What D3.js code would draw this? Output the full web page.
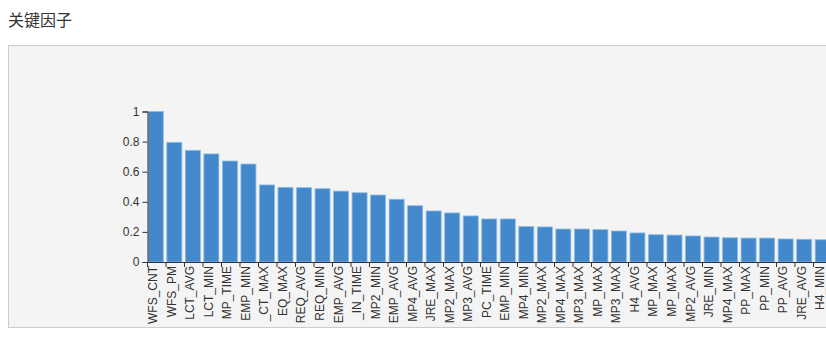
<!DOCTYPE html>
<html>
<head>
<meta charset="utf-8">
<script src="https://cdn.jsdelivr.net/npm/d3@7"></script>
<style>
  html, body { margin: 0; padding: 0; background: #fff; }
  body { width: 826px; height: 341px; overflow: hidden; position: relative; }
  #title { position: absolute; left: 8px; top: 8px; font: 16px "Noto Sans CJK SC", sans-serif; color: #333; line-height: 22px; }
  #panel { position: absolute; left: 8px; top: 45px; width: 817px; height: 281px; border: 1px solid #ccc; border-right: none; background: #f4f4f4; overflow: hidden; }
</style>
</head>
<body>
<div id="title">关键因子</div>
<div id="panel"></div>
<script>
const categories = [
  "WFS_CNT", "WFS_PM", "LCT_AVG", "LCT_MIN", "MP_TIME",
  "EMP_MIN", "_CT_MAX", "EQ_MAX", "REQ_AVG", "REQ_MIN",
  "EMP_AVG", "_IN_TIME", "MP2_MIN", "EMP_AVG ", "MP4_AVG",
  "JRE_MAX", "MP2_MAX", "MP3_AVG", "PC_TIME", "EMP_MIN ",
  "MP4_MIN", "MP2_MAX ", "MP4_MAX", "MP3_MAX", "MP_MAX",
  "MP3_MAX ", "H4_AVG", "MP_MAX ", "MP_MAX  ", "MP2_AVG",
  "JRE_MIN", "MP4_MAX ", "PP_MAX", "PP_MIN", "PP_AVG",
  "JRE_AVG", "H4_MIN"
];
const values = [
  1.0, 0.795, 0.742, 0.718, 0.671, 0.651, 0.512, 0.496, 0.494, 0.487,
  0.471, 0.460, 0.445, 0.417, 0.374, 0.339, 0.326, 0.306, 0.286, 0.286,
  0.235, 0.233, 0.219, 0.219, 0.215, 0.206, 0.193, 0.181, 0.179, 0.173,
  0.166, 0.161, 0.159, 0.159, 0.153, 0.151, 0.148
];
const yTicks = [0, 0.2, 0.4, 0.6, 0.8, 1];

const W = 817, H = 281;
const x0 = 138, step = 18.5;
const y0 = 216, yTop = 65.5;

const svg = d3.select("#panel").append("svg")
  .attr("width", W).attr("height", H)
  .style("display", "block");

const x = d3.scaleBand()
  .domain(categories)
  .range([x0, x0 + step * categories.length])
  .paddingInner(0.19).paddingOuter(0.07);

const y = d3.scaleLinear().domain([0, 1]).range([y0, yTop]);

const font = '"Liberation Sans", Arial, sans-serif';

// bars
svg.append("g").selectAll("rect").data(values).join("rect")
  .attr("x", (d, i) => x(categories[i]))
  .attr("y", d => y(d))
  .attr("width", x.bandwidth())
  .attr("height", d => y0 - y(d))
  .attr("fill", "#4388cb")
  .attr("stroke", "#8ebbe6")
  .attr("stroke-width", 0.8);

// y axis
const yAxis = svg.append("g")
  .attr("transform", `translate(${x0 + 0.5},0)`)
  .call(d3.axisLeft(y).tickValues(yTicks).tickSize(5).tickPadding(3)
        .tickFormat(d => d3.format("")(+d.toFixed(1))));
yAxis.select(".domain").attr("stroke", "#333");
yAxis.selectAll(".tick line").attr("stroke", "#333");
yAxis.selectAll(".tick text").attr("fill", "#333").style("font-family", font).style("font-size", "12px");

// x axis (ticks at band boundaries)
const bounds = d3.range(categories.length + 1).map(i => x0 + i * step);
const xg = svg.append("g");
xg.append("line").attr("x1", x0).attr("x2", x0 + step * categories.length)
  .attr("y1", y0 + 0.5).attr("y2", y0 + 0.5).attr("stroke", "#333");
xg.selectAll("line.t").data(bounds).join("line").attr("class", "t")
  .attr("x1", d => d + 0.5).attr("x2", d => d + 0.5)
  .attr("y1", y0).attr("y2", y0 + 5).attr("stroke", "#333");
xg.selectAll("text").data(categories).join("text")
  .attr("transform", d => `translate(${x(d) + x.bandwidth() / 2 + 1.5},${y0 + 4}) rotate(-90)`)
  .attr("text-anchor", "end")
  .attr("fill", "#333")
  .style("font-family", font)
  .style("font-size", "12px")
  .text(d => d.trim());
</script>
</body>
</html>
